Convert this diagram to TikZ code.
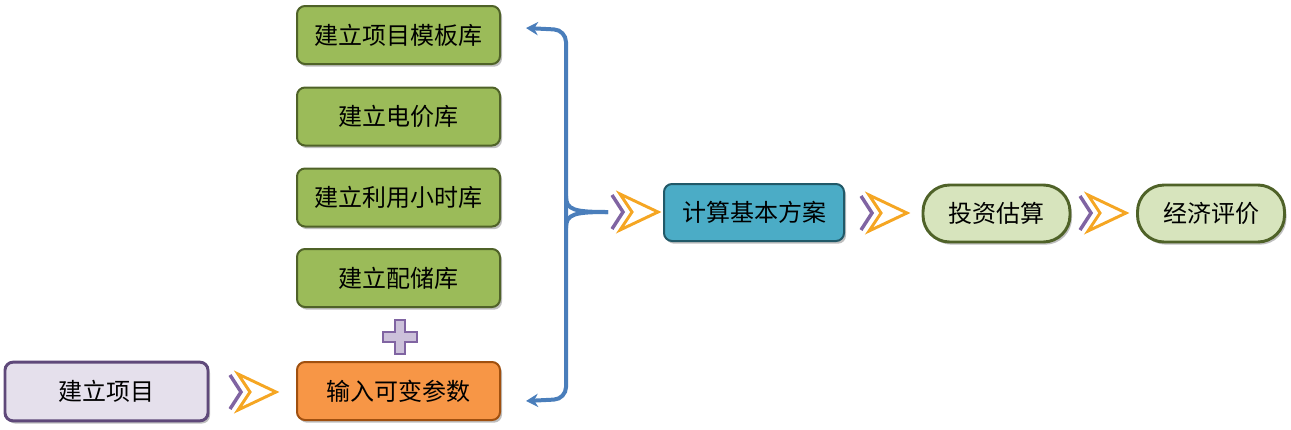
\documentclass[tikz,border=0pt]{standalone}
\usepackage{fontspec}
\setmainfont{Noto Sans CJK SC}
\usetikzlibrary{shadows,arrows.meta}
\definecolor{gfill}{HTML}{9BBB59}
\definecolor{gdraw}{HTML}{4F6228}
\definecolor{ofill}{HTML}{F79646}
\definecolor{odraw}{HTML}{A0500F}
\definecolor{bfill}{HTML}{4BACC6}
\definecolor{bdraw}{HTML}{215968}
\definecolor{lgfill}{HTML}{D7E4BD}
\definecolor{lvfill}{HTML}{E5E0EC}
\definecolor{lvdraw}{HTML}{5F497A}
\definecolor{bracec}{HTML}{4A7EBB}
\definecolor{chevp}{HTML}{8064A2}
\definecolor{chevo}{HTML}{F5A623}
\definecolor{plusf}{HTML}{CCC1DA}
\begin{document}
\begin{tikzpicture}[x=0.75pt,y=-0.75pt,
  every node/.style={font=\fontsize{18pt}{20pt}\selectfont, inner sep=0pt, text=black},
  boxbase/.style={rounded corners=6pt, drop shadow={shadow xshift=1.5pt, shadow yshift=-2pt, opacity=0.25, fill=black}},
  greenbox/.style={boxbase, fill=gfill, draw=gdraw, line width=1.5pt, minimum width=152.25pt, minimum height=43.5pt},
  orangebox/.style={greenbox, fill=ofill, draw=odraw},
  lavbox/.style={boxbase, fill=lvfill, draw=lvdraw, line width=2.2pt, minimum width=152.25pt, minimum height=44pt},
  bluebox/.style={boxbase, fill=bfill, draw=bdraw, line width=1.5pt, minimum width=135pt, minimum height=42.75pt},
  pillbox/.style={boxbase, rounded corners=20pt, fill=lgfill, draw=gdraw, line width=2.2pt, minimum width=110.25pt, minimum height=42.75pt},
  bracestyle/.style={draw=bracec, line width=3pt},
  chev/.pic={
    \draw[chevp, line width=2.6pt] (0,-17) -- (11,0) -- (0,17);
    \draw[chevo, line width=2.2pt, line join=miter] (8,-18) -- (46,0) -- (8,18) -- (20,0) -- cycle;
  }]
\useasboundingbox (0,0) rectangle (1291,429);
% left column
\node[greenbox] (t1) at (398.5,35) {建立项目模板库};
\node[greenbox] (t2) at (398.5,116.5) {建立电价库};
\node[greenbox] (t3) at (398.5,197.5) {建立利用小时库};
\node[greenbox] (t4) at (398.5,278) {建立配储库};
\node[orangebox] (inp) at (398.5,391) {输入可变参数};
\node[lavbox] (proj) at (106.5,391.5) {建立项目};
% right chain
\node[bluebox] (calc) at (754,212.5) {计算基本方案};
\node[pillbox] (inv) at (996.5,213.5) {投资估算};
\node[pillbox] (eco) at (1211,213.5) {经济评价};
% plus sign
\draw[draw=chevp, fill=plusf, line width=0.8pt] (395,320) -- (405,320) -- (405,332) -- (417,332) -- (417,342) -- (405,342) -- (405,354) -- (395,354) -- (395,342) -- (383,342) -- (383,332) -- (395,332) -- cycle;
% brace
\coordinate (btop) at (526,28);
\coordinate (bbot) at (526,401);
\coordinate (bmid) at (608,212);
\draw[bracestyle, rounded corners=9pt, {Stealth[length=9pt,width=10pt]}-{Stealth[length=9pt,width=10pt]}] (btop) -- (566,30) -- (566,399) -- (bbot);
\draw[bracestyle] (566,196) .. controls (566,210) and (574,212) .. (bmid);
\draw[bracestyle] (566,228) .. controls (566,214) and (574,212) .. (bmid);
% chevrons
\pic at (230,392) {chev};
\pic at (612,212) {chev};
\pic at (861,213) {chev};
\pic at (1080,213) {chev};
\end{tikzpicture}
\end{document}
